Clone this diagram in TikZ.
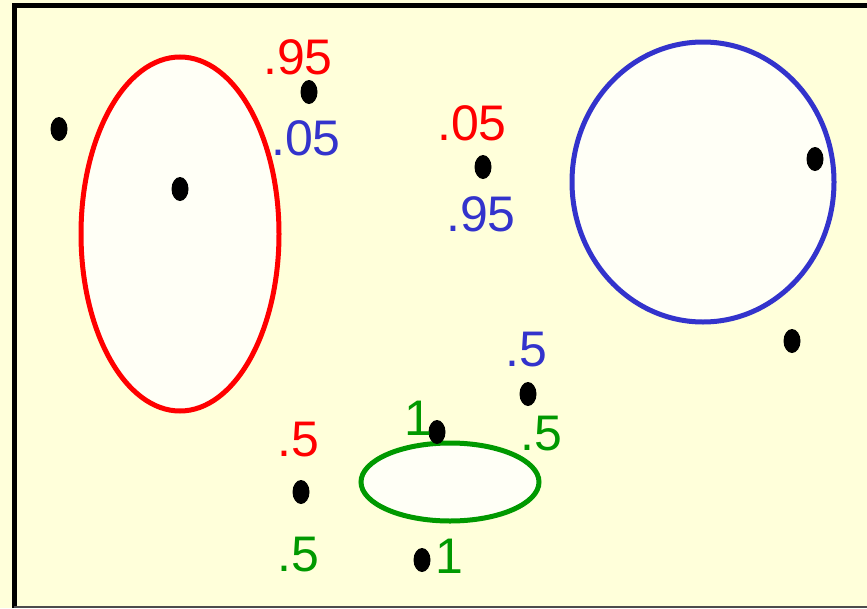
\documentclass[tikz,border=0pt]{standalone}
\usepackage{fontspec}
\setmainfont{Liberation Sans}
\usetikzlibrary{shapes.geometric}

\definecolor{paper}{HTML}{FFFFDA}
\definecolor{hole}{HTML}{FFFFF6}
\definecolor{setred}{HTML}{FF0000}
\definecolor{setblue}{HTML}{3333CC}
\definecolor{setgreen}{HTML}{009900}

\begin{document}
\begin{tikzpicture}[x=1pt,y=-1pt,
  pt/.style={ellipse, fill=black, inner sep=0pt, minimum width=17pt, minimum height=24pt},
  lbl/.style={inner sep=0pt, font=\fontsize{50}{56}\selectfont}]
\useasboundingbox (0,0) rectangle (867,608);
\fill[paper] (0,0) rectangle (867,608);
\draw[black, line width=5pt] (14.5,608) -- (14.5,5) -- (867,5);
\draw[black!70, line width=1.5pt] (14,607) -- (867,607);
% the three sets
\filldraw[fill=hole, draw=setred, line width=5pt] (180,234) ellipse [x radius=99, y radius=177];
\filldraw[fill=hole, draw=setblue, line width=5pt] (703,182) ellipse [x radius=131, y radius=140];
\filldraw[fill=hole, draw=setgreen, line width=5pt] (450,482) ellipse [x radius=89, y radius=39];
% points
\node[pt] (p1) at (59,129) {};
\node[pt] (p2) at (180,189) {};
\node[pt] (p3) at (309,92) {};
\node[pt] (p4) at (483,167) {};
\node[pt] (p5) at (815,159) {};
\node[pt] (p6) at (792,341) {};
\node[pt] (p7) at (528,394) {};
\node[pt] (p8) at (437,432) {};
\node[pt] (p9) at (301,492) {};
\node[pt] (p10) at (422,560) {};
% memberships
\node[lbl, text=setred] (r3) at (298,57) {.95};
\node[lbl, text=setblue] (b3) at (306,138) {.05};
\node[lbl, text=setred] (r4) at (472,123) {.05};
\node[lbl, text=setblue] (b4) at (481,214) {.95};
\node[lbl, text=setblue] (b7) at (526,350) {.5};
\node[lbl, text=setgreen] (g7) at (541,434) {.5};
\node[lbl, text=setgreen] (g8) at (418,418) {1};
\node[lbl, text=setred] (r9) at (298,440) {.5};
\node[lbl, text=setgreen] (g9) at (298,555) {.5};
\node[lbl, text=setgreen] (g10) at (449,556) {1};
\end{tikzpicture}
\end{document}
